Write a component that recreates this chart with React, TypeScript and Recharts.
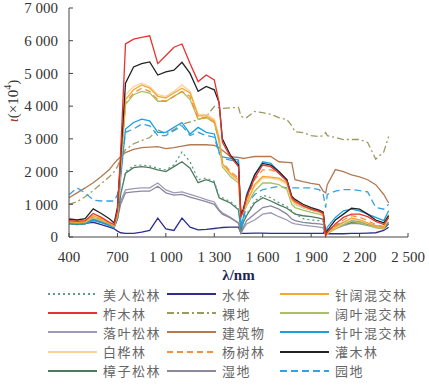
import { LineChart, XAxis, YAxis, Line, Label } from "recharts";

const wavelengths = [400, 450, 500, 550, 600, 650, 680, 700, 720, 750, 800, 850, 900, 950, 1000, 1050, 1100, 1150, 1200, 1250, 1300, 1330, 1350, 1400, 1450, 1465, 1480, 1500, 1550, 1600, 1650, 1700, 1750, 1780, 1800, 1850, 1900, 1950, 1975, 1990, 2000, 2050, 2100, 2150, 2200, 2250, 2300, 2350, 2380];

const xTicks = [400, 700, 1000, 1300, 1600, 1900, 2200, 2500];
const yTicks = [0, 1000, 2000, 3000, 4000, 5000, 6000, 7000];

// 灌木林
const shrub = [550, 520, 560, 860, 720, 560, 430, 900, 2400, 4700, 5200, 5300, 5350, 4950, 5050, 5100, 5340, 5000, 4450, 4600, 4500, 4100, 3000, 2500, 2200, 700, 850, 1250, 1900, 2250, 2200, 2000, 1750, 1250, 1150, 1000, 900, 820, 760, 60, 200, 520, 700, 880, 850, 700, 520, 430, 650];
// 柞木林
const oak = [500, 480, 500, 720, 600, 450, 380, 800, 2600, 5900, 6050, 6100, 6150, 5300, 5550, 5800, 5900, 5300, 4750, 4950, 4800, 4100, 2900, 2450, 2150, 600, 800, 1200, 1800, 2200, 2150, 1950, 1700, 1200, 1100, 950, 850, 780, 720, 50, 150, 400, 600, 700, 700, 620, 480, 380, 600];
// 针阔混交林
const mixedCB = [480, 450, 480, 650, 550, 420, 330, 700, 2200, 4200, 4500, 4650, 4550, 4300, 4250, 4400, 4550, 4400, 3700, 3700, 3550, 3000, 2250, 1950, 1750, 700, 850, 1050, 1600, 1850, 1830, 1800, 1650, 1150, 1050, 950, 850, 780, 720, 30, 120, 300, 450, 580, 520, 430, 320, 280, 680];
// 杨树林
const poplar = [470, 440, 470, 640, 540, 410, 320, 680, 2150, 4100, 4400, 4550, 4450, 4200, 4150, 4300, 4450, 4300, 3600, 3650, 3500, 2950, 2300, 2000, 1800, 700, 900, 1150, 1750, 2050, 2050, 1950, 1750, 1200, 1100, 950, 860, 780, 720, 40, 150, 350, 520, 650, 600, 500, 380, 320, 700];
// 白桦林
const birch = [520, 490, 510, 660, 560, 440, 350, 740, 2300, 4350, 4600, 4700, 4600, 4350, 4300, 4450, 4650, 4450, 3750, 3750, 3600, 3050, 2200, 1900, 1700, 680, 800, 1000, 1550, 1800, 1800, 1750, 1600, 1100, 1000, 900, 820, 760, 700, 30, 120, 280, 420, 540, 500, 420, 320, 280, 650];
// 阔叶混交林
const broadleaf = [450, 430, 450, 600, 500, 400, 320, 650, 2100, 4050, 4350, 4450, 4400, 4150, 4150, 4300, 4450, 4200, 3600, 3650, 3500, 2900, 2150, 1850, 1650, 650, 750, 950, 1400, 1650, 1650, 1600, 1450, 1000, 900, 820, 750, 700, 650, 30, 100, 250, 380, 480, 430, 360, 280, 250, 600];
// 针叶混交林
const conifer = [420, 400, 400, 520, 440, 350, 280, 600, 1800, 3300, 3500, 3600, 3550, 3200, 3200, 3350, 3500, 3150, 3350, 3200, 3150, 2600, 2450, 2400, 2350, 300, 600, 1300, 1900, 2300, 2250, 2000, 1750, 1200, 1000, 900, 820, 760, 700, 50, 300, 600, 800, 850, 800, 700, 600, 500, 800];
// 园地
const garden = [1290, 1500, 1350, 1130, 1100, 1100, 1100, 1300, 2000, 3200, 3300, 3450, 3400, 3100, 3100, 3250, 3400, 3100, 3200, 3100, 3050, 2550, 2400, 2350, 2300, 300, 500, 1000, 1300, 1450, 1500, 1550, 1500, 1500, 1500, 1500, 1500, 1450, 1300, 900, 1300, 1400, 1450, 1450, 1420, 1380, 900, 850, 1000];
// 裸地
const bare = [1000, 1080, 1230, 1420, 1630, 1840, 2000, 2150, 2400, 2670, 2850, 2950, 3040, 3280, 3150, 3280, 3450, 3520, 3590, 3680, 3990, 3950, 3930, 3950, 3960, 3700, 3650, 3650, 3840, 3800, 3750, 3650, 3590, 3400, 3220, 3190, 3100, 3070, 3100, 3190, 3100, 3040, 2980, 2980, 2980, 2890, 2380, 2600, 3070];
// 建筑物
const building = [1200, 1350, 1500, 1660, 1850, 2060, 2250, 2360, 2450, 2580, 2680, 2730, 2750, 2760, 2700, 2730, 2780, 2820, 2820, 2820, 2800, 2730, 2650, 2460, 2430, 2420, 2400, 2420, 2460, 2460, 2460, 2300, 2280, 2270, 1750, 1690, 1640, 1600, 1400, 1350, 1600, 2060, 2000, 1900, 1840, 1750, 1600, 1300, 1040];
// 落叶松林
const larch = [450, 420, 430, 550, 480, 400, 340, 600, 1100, 1440, 1480, 1500, 1500, 1650, 1440, 1350, 1380, 1300, 1230, 1140, 1070, 830, 740, 600, 430, 120, 250, 400, 520, 700, 740, 620, 520, 430, 400, 360, 330, 300, 280, 60, 150, 250, 350, 420, 400, 350, 300, 250, 400];
// 湿地
const wetland = [420, 400, 410, 500, 450, 380, 320, 550, 1000, 1350, 1380, 1400, 1400, 1550, 1350, 1280, 1300, 1220, 1150, 1080, 1000, 800, 700, 580, 420, 120, 300, 500, 700, 900, 950, 850, 700, 550, 500, 450, 420, 400, 380, 60, 200, 350, 450, 500, 480, 420, 350, 300, 450];
// 樟子松林
const scotsPine = [400, 380, 400, 520, 450, 370, 300, 550, 1300, 1950, 2120, 2150, 2120, 2050, 2000, 2150, 2300, 2100, 1660, 1750, 1660, 1200, 1150, 1040, 830, 200, 450, 650, 1040, 1200, 1100, 980, 880, 770, 700, 650, 620, 580, 540, 40, 150, 280, 380, 450, 430, 380, 300, 250, 400];
// 美人松林
const beautyPine = [420, 400, 410, 540, 460, 380, 310, 560, 1350, 2000, 2180, 2200, 2170, 2100, 2050, 2200, 2600, 2300, 1750, 1800, 1700, 1250, 1200, 1080, 870, 220, 480, 700, 1100, 1280, 1200, 1050, 930, 800, 720, 560, 520, 500, 480, 40, 180, 320, 420, 500, 470, 420, 340, 280, 450];
// 水体
const water = [450, 430, 420, 450, 380, 300, 250, 180, 130, 110, 110, 150, 200, 580, 250, 200, 580, 300, 220, 230, 260, 280, 290, 300, 300, 120, 110, 110, 120, 120, 110, 110, 110, 110, 110, 110, 110, 110, 110, 250, 100, 100, 100, 110, 110, 120, 130, 200, 300];

const values: Record<string, number[]> = {
    shrub, oak, mixedCB, poplar, birch, broadleaf, conifer, garden,
    bare, building, larch, wetland, scotsPine, beautyPine, water,
};

const data = wavelengths.map((w, i) => {
    const row: Record<string, number> = { w };
    for (const k in values) row[k] = values[k][i];
    return row;
});

// legend order (row by row, 3 columns)
const legendItems = [
    { key: "beautyPine", name: "美人松林", color: "#5d9c8c", dash: "2 3" },
    { key: "water", name: "水体", color: "#2e2e92", dash: undefined },
    { key: "mixedCB", name: "针阔混交林", color: "#f5a82a", dash: undefined },
    { key: "oak", name: "柞木林", color: "#e8322e", dash: undefined },
    { key: "bare", name: "裸地", color: "#9c9a5c", dash: "7 3 2 3" },
    { key: "broadleaf", name: "阔叶混交林", color: "#a9c162", dash: undefined },
    { key: "larch", name: "落叶松林", color: "#9c9ab6", dash: undefined },
    { key: "building", name: "建筑物", color: "#b27a52", dash: undefined },
    { key: "conifer", name: "针叶混交林", color: "#1a9fe0", dash: undefined },
    { key: "birch", name: "白桦林", color: "#f8d39a", dash: undefined },
    { key: "poplar", name: "杨树林", color: "#f09040", dash: "6 4" },
    { key: "shrub", name: "灌木林", color: "#222222", dash: undefined },
    { key: "scotsPine", name: "樟子松林", color: "#4b7a5c", dash: undefined },
    { key: "wetland", name: "湿地", color: "#8a889e", dash: undefined },
    { key: "garden", name: "园地", color: "#33a2e2", dash: "7 4" },
];

const drawOrder = ["water", "larch", "wetland", "scotsPine", "beautyPine", "building", "bare", "garden", "conifer", "broadleaf", "birch", "poplar", "mixedCB", "shrub", "oak"];

const fmt = (v: number) => (v >= 1000 ? `${Math.floor(v / 1000)} ${String(v % 1000).padStart(3, "0")}` : String(v));

const serif = '"Liberation Serif", "Times New Roman", serif';

function YLabel(props: any) {
    const vb = props.viewBox;
    const cx = 13;
    const cy = vb.y + 93;
    return (
        <text x={cx} y={cy} transform={`rotate(-90 ${cx} ${cy})`} textAnchor="middle" dominantBaseline="central" fontFamily={serif} fontSize={15} fill="#333">
            <tspan fill="#a23a2a" fontStyle="italic">ι</tspan>
            <tspan>(×10</tspan>
            <tspan dy={-6} fontSize={10}>4</tspan>
            <tspan dy={6}>)</tspan>
        </text>
    );
}

export default function App() {
    return (
        <div style={{ position: "absolute", left: 0, top: 0, width: 429, height: 385, background: "#fff" }}>
            <LineChart width={429} height={385} data={data} margin={{ top: 8, right: 21, left: 0, bottom: 108 }}>
                <XAxis
                    dataKey="w"
                    type="number"
                    domain={[400, 2500]}
                    ticks={xTicks}
                    tickFormatter={fmt}
                    height={40}
                    stroke="#444"
                    tickSize={-4}
                    tickMargin={18}
                    tick={{ fontFamily: serif, fontSize: 15, fill: "#333" }}
                    interval={0}
                >
                    <Label value="λ/nm" position="insideBottom" offset={-3} style={{ fontFamily: serif, fontSize: 15, fontWeight: "bold", fill: "#1c2550" }} />
                </XAxis>
                <YAxis
                    type="number"
                    domain={[0, 7000]}
                    ticks={yTicks}
                    tickFormatter={fmt}
                    width={69}
                    stroke="#444"
                    tickSize={-4}
                    tickMargin={15}
                    tick={{ fontFamily: serif, fontSize: 15, fill: "#333" }}
                    interval={0}
                >
                    <Label content={<YLabel />} />
                </YAxis>
                {drawOrder.map((k) => {
                    const it = legendItems.find((l) => l.key === k)!;
                    return (
                        <Line
                            key={k}
                            dataKey={k}
                            name={it.name}
                            type="linear"
                            stroke={it.color}
                            strokeWidth={1.3}
                            strokeDasharray={it.dash}
                            dot={false}
                            isAnimationActive={false}
                        />
                    );
                })}
            </LineChart>
            {legendItems.map((it, i) => {
                const col = i % 3;
                const row = Math.floor(i / 3);
                const left = [47, 166, 279][col];
                const top = 285 + row * 19.2;
                return (
                    <div key={it.key} style={{ position: "absolute", left, top, height: 18, display: "flex", alignItems: "center" }}>
                        <svg width={52} height={18}>
                            <line x1={1} y1={9} x2={50} y2={9} stroke={it.color} strokeWidth={2} strokeDasharray={it.dash} />
                        </svg>
                        <span style={{ marginLeft: 4, fontFamily: '"Noto Sans CJK SC", sans-serif', fontSize: 13, letterSpacing: 1.5, color: "#666", whiteSpace: "nowrap" }}>
                            {it.name}
                        </span>
                    </div>
                );
            })}
        </div>
    );
}
